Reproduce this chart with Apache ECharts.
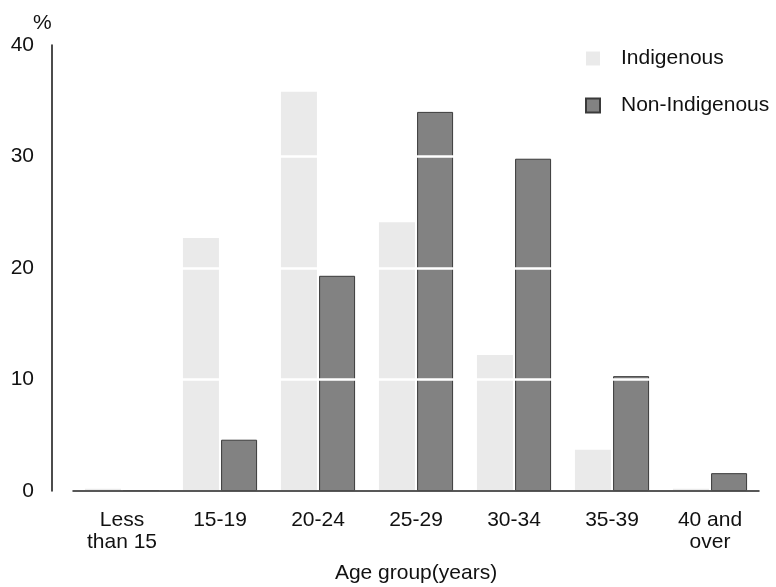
<!DOCTYPE html>
<html>
<head>
<meta charset="utf-8">
<style>
  html, body { margin: 0; padding: 0; background: #ffffff; }
  #chart { width: 776px; height: 587px; }
</style>
<script src="https://cdn.jsdelivr.net/npm/echarts@6/dist/echarts.min.js"></script>
</head>
<body>
<div id="chart"></div>
<script>
var categories = ['Less\nthan 15', '15-19', '20-24', '25-29', '30-34', '35-39', '40 and\nover'];
var indigenous = [0.2, 22.7, 35.8, 24.1, 12.2, 3.7, 0.2];
var nonIndigenous = [0, 4.6, 19.3, 34.0, 29.8, 10.3, 1.6];
var yTicks = { min: 0, max: 40, interval: 10 };

var FONT = 'Liberation Sans';
var FS = 21;
var chart = echarts.init(document.getElementById('chart'), null, { renderer: 'canvas' });
chart.setOption({
  backgroundColor: '#ffffff',
  animation: false,
  textStyle: { fontFamily: FONT, color: '#111' },
  grid: { left: 73, right: 17, top: 45, bottom: 96, containLabel: false, outerBoundsMode: 'none' },
  legend: {
    orient: 'vertical',
    left: 580,
    top: 43,
    itemWidth: 14,
    itemHeight: 14,
    itemGap: 26,
    icon: 'rect',
    textStyle: { fontFamily: FONT, fontSize: FS, color: '#111', padding: [0, 0, 0, 16] },
    data: ['Indigenous', 'Non-Indigenous']
  },
  graphic: [{
    type: 'text',
    left: 33,
    top: 13,
    style: { text: '%', fontFamily: FONT, fontSize: FS, fill: '#111' }
  }],
  xAxis: {
    type: 'category',
    data: categories,
    z: 6,
    axisLine: { show: true, lineStyle: { color: '#222', width: 1.5 } },
    axisTick: { show: false },
    axisLabel: { fontFamily: FONT, fontSize: FS, color: '#111', lineHeight: 22, margin: 18, interval: 0 },
    name: 'Age group(years)',
    nameLocation: 'middle',
    nameGap: 72,
    nameTextStyle: { fontFamily: FONT, fontSize: FS, color: '#111' }
  },
  yAxis: {
    type: 'value',
    min: yTicks.min,
    max: yTicks.max,
    interval: yTicks.interval,
    offset: 21,
    z: 5,
    axisLine: { show: true, lineStyle: { color: '#111', width: 1.5 } },
    axisTick: { show: false },
    axisLabel: { fontFamily: FONT, fontSize: FS, color: '#111', margin: 18 },
    splitLine: { show: true, lineStyle: { color: '#ffffff', width: 2.5 } }
  },
  series: [
    {
      name: 'Indigenous',
      type: 'bar',
      data: indigenous,
      barWidth: 36,
      barGap: '6%',
      itemStyle: { color: '#eaeaea' }
    },
    {
      name: 'Non-Indigenous',
      type: 'bar',
      data: nonIndigenous,
      barWidth: 36,
      itemStyle: { color: '#828282', borderColor: '#3a3a3a', borderWidth: 1 }
    }
  ]
});
</script>
</body>
</html>
